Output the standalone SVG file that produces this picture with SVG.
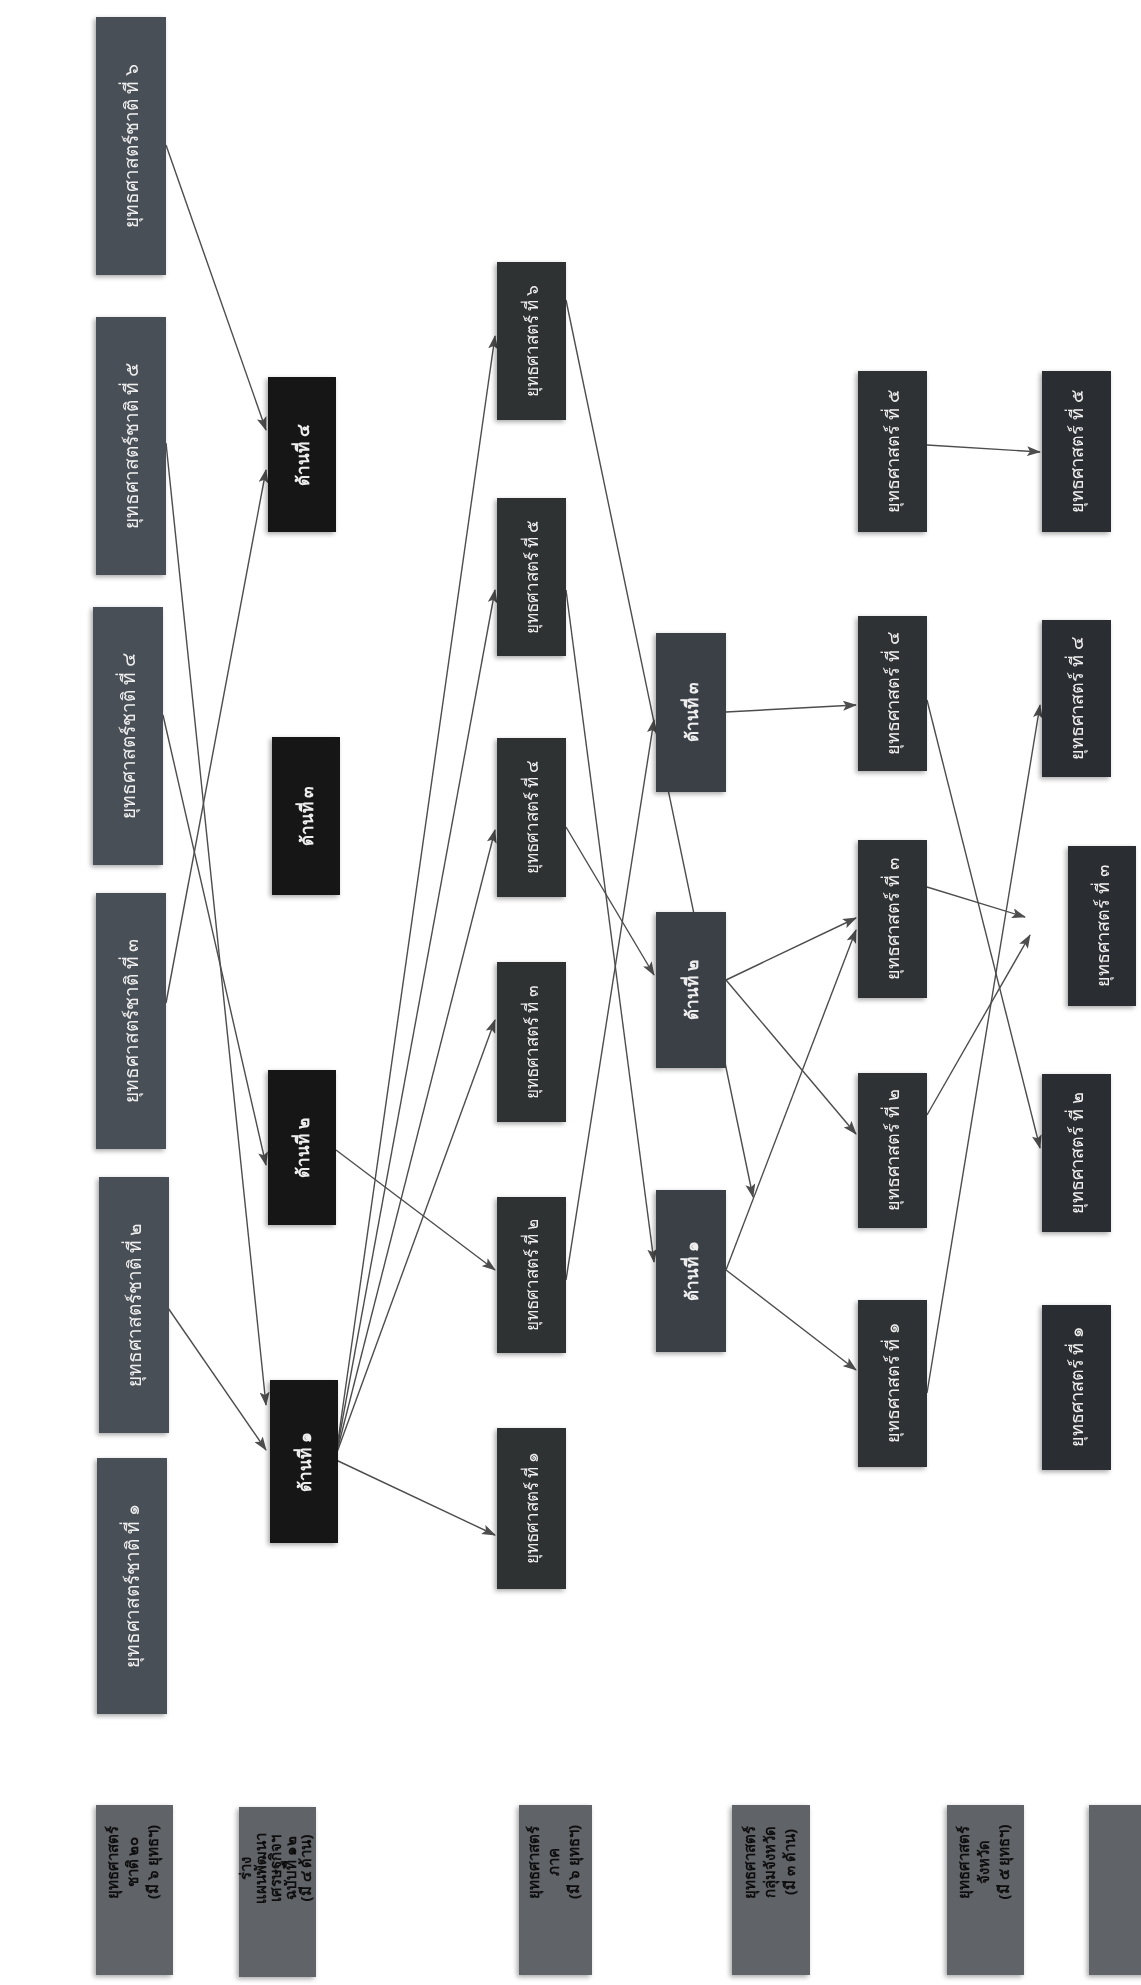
<svg xmlns="http://www.w3.org/2000/svg" width="1141" height="1985" viewBox="0 0 1141 1985">
<style>
  .n1{fill:#4a4f56}
  .n2{fill:#151515}
  .n3{fill:#2e3033}
  .n4{fill:#3b3f46}
  .n5{fill:#2f3134}
  .n6{fill:#2c2e31}
  .lg{fill:#606367}
  .t{font-family:"Noto Sans","DejaVu Sans","Liberation Sans",sans-serif;fill:#eeeeee;text-anchor:middle;dominant-baseline:central}
  .b{font-weight:bold}
  .lt{font-family:"Noto Sans","DejaVu Sans","Liberation Sans",sans-serif;fill:#111;text-anchor:middle;font-size:15px;font-weight:bold}
  .c{stroke:#4d4d4d;stroke-width:1.4;fill:none;marker-end:url(#ah)}
</style>
<defs>
  <marker id="ah" markerWidth="14" markerHeight="10" refX="13" refY="5" orient="auto" markerUnits="userSpaceOnUse">
    <path d="M0,0 L14,5 L0,10 L3,5 Z" fill="#4d4d4d"/>
  </marker>
  <filter id="sh" x="-20%" y="-20%" width="140%" height="140%">
    <feGaussianBlur in="SourceAlpha" stdDeviation="2.5"/>
    <feOffset dx="-2" dy="2"/>
    <feComponentTransfer><feFuncA type="linear" slope="0.35"/></feComponentTransfer>
    <feMerge><feMergeNode/><feMergeNode in="SourceGraphic"/></feMerge>
  </filter>
</defs>
<rect width="1141" height="1985" fill="#ffffff"/>

<g id="connectors">
  <line class="c" x1="166" y1="1305" x2="266" y2="1450"/>
  <line class="c" x1="166" y1="1003" x2="266" y2="470"/>
  <line class="c" x1="163" y1="715" x2="266" y2="1165"/>
  <line class="c" x1="166" y1="443" x2="266" y2="1405"/>
  <line class="c" x1="166" y1="145" x2="266" y2="430"/>
  <line class="c" x1="336" y1="1455" x2="495" y2="336"/>
  <line class="c" x1="336" y1="1455" x2="495" y2="590"/>
  <line class="c" x1="336" y1="1455" x2="495" y2="830"/>
  <line class="c" x1="336" y1="1455" x2="495" y2="1020"/>
  <line class="c" x1="336" y1="1460" x2="495" y2="1535"/>
  <line class="c" x1="336" y1="1150" x2="495" y2="1270"/>
  <line class="c" x1="566" y1="1280" x2="654" y2="720"/>
  <line class="c" x1="566" y1="827" x2="654" y2="975"/>
  <line class="c" x1="566" y1="590" x2="654" y2="1262"/>
  <line class="c" x1="566" y1="300" x2="753" y2="1197"/>
  <line class="c" x1="726" y1="1270" x2="856" y2="1370"/>
  <line class="c" x1="726" y1="1270" x2="856" y2="930"/>
  <line class="c" x1="726" y1="980" x2="856" y2="918"/>
  <line class="c" x1="726" y1="980" x2="856" y2="1134"/>
  <line class="c" x1="726" y1="712" x2="856" y2="705"/>
  <line class="c" x1="927" y1="445" x2="1040" y2="452"/>
  <line class="c" x1="927" y1="700" x2="1040" y2="1148"/>
  <line class="c" x1="927" y1="887" x2="1025" y2="917"/>
  <line class="c" x1="927" y1="1115" x2="1030" y2="935"/>
  <line class="c" x1="927" y1="1393" x2="1040" y2="705"/>
</g>

<!-- Column 1: ยุทธศาสตร์ชาติ -->
<g id="chat6" filter="url(#sh)"><rect class="n1" x="96" y="17" width="70" height="258"/><text class="t" font-size="19" transform="translate(131,146) rotate(-90)">ยุทธศาสตร์ชาติ ที่ ๖</text></g>
<g id="chat5" filter="url(#sh)"><rect class="n1" x="96" y="317" width="70" height="258"/><text class="t" font-size="19" transform="translate(131,446) rotate(-90)">ยุทธศาสตร์ชาติ ที่ ๕</text></g>
<g id="chat4" filter="url(#sh)"><rect class="n1" x="93" y="607" width="70" height="258"/><text class="t" font-size="19" transform="translate(128,736) rotate(-90)">ยุทธศาสตร์ชาติ ที่ ๔</text></g>
<g id="chat3" filter="url(#sh)"><rect class="n1" x="96" y="893" width="70" height="256"/><text class="t" font-size="19" transform="translate(131,1021) rotate(-90)">ยุทธศาสตร์ชาติ ที่ ๓</text></g>
<g id="chat2" filter="url(#sh)"><rect class="n1" x="99" y="1177" width="70" height="256"/><text class="t" font-size="19" transform="translate(134,1305) rotate(-90)">ยุทธศาสตร์ชาติ ที่ ๒</text></g>
<g id="chat1" filter="url(#sh)"><rect class="n1" x="97" y="1458" width="70" height="256"/><text class="t" font-size="19" transform="translate(132,1586) rotate(-90)">ยุทธศาสตร์ชาติ ที่ ๑</text></g>

<!-- Column 2: แผนฯ ด้าน -->
<g id="plan4" filter="url(#sh)"><rect class="n2" x="268" y="377" width="68" height="155"/><text class="t b" font-size="17" transform="translate(302,455) rotate(-90)">ด้านที่ ๔</text></g>
<g id="plan3" filter="url(#sh)"><rect class="n2" x="272" y="737" width="68" height="158"/><text class="t b" font-size="17" transform="translate(306,816) rotate(-90)">ด้านที่ ๓</text></g>
<g id="plan2" filter="url(#sh)"><rect class="n2" x="268" y="1070" width="68" height="155"/><text class="t b" font-size="17" transform="translate(302,1148) rotate(-90)">ด้านที่ ๒</text></g>
<g id="plan1" filter="url(#sh)"><rect class="n2" x="270" y="1380" width="68" height="163"/><text class="t b" font-size="17" transform="translate(304,1462) rotate(-90)">ด้านที่ ๑</text></g>

<!-- Column 3: ยุทธศาสตร์ภาค -->
<g id="pak6" filter="url(#sh)"><rect class="n3" x="497" y="262" width="69" height="158"/><text class="t" font-size="17" transform="translate(531,341) rotate(-90)">ยุทธศาสตร์ ที่ ๖</text></g>
<g id="pak5" filter="url(#sh)"><rect class="n3" x="497" y="498" width="69" height="158"/><text class="t" font-size="17" transform="translate(531,577) rotate(-90)">ยุทธศาสตร์ ที่ ๕</text></g>
<g id="pak4" filter="url(#sh)"><rect class="n3" x="497" y="738" width="69" height="159"/><text class="t" font-size="17" transform="translate(531,817) rotate(-90)">ยุทธศาสตร์ ที่ ๔</text></g>
<g id="pak3" filter="url(#sh)"><rect class="n3" x="497" y="962" width="69" height="160"/><text class="t" font-size="17" transform="translate(531,1042) rotate(-90)">ยุทธศาสตร์ ที่ ๓</text></g>
<g id="pak2" filter="url(#sh)"><rect class="n3" x="497" y="1197" width="69" height="156"/><text class="t" font-size="17" transform="translate(531,1275) rotate(-90)">ยุทธศาสตร์ ที่ ๒</text></g>
<g id="pak1" filter="url(#sh)"><rect class="n3" x="497" y="1428" width="69" height="161"/><text class="t" font-size="17" transform="translate(531,1508) rotate(-90)">ยุทธศาสตร์ ที่ ๑</text></g>

<!-- Column 4: กลุ่มจังหวัด -->
<g id="klum3" filter="url(#sh)"><rect class="n4" x="656" y="633" width="70" height="159"/><text class="t b" font-size="17" transform="translate(691,712) rotate(-90)">ด้านที่ ๓</text></g>
<g id="klum2" filter="url(#sh)"><rect class="n4" x="656" y="912" width="70" height="156"/><text class="t b" font-size="17" transform="translate(691,990) rotate(-90)">ด้านที่ ๒</text></g>
<g id="klum1" filter="url(#sh)"><rect class="n4" x="656" y="1190" width="70" height="162"/><text class="t b" font-size="17" transform="translate(691,1271) rotate(-90)">ด้านที่ ๑</text></g>

<!-- Column 5: จังหวัด -->
<g id="cw5" filter="url(#sh)"><rect class="n5" x="858" y="371" width="69" height="161"/><text class="t" font-size="18" transform="translate(892,451) rotate(-90)">ยุทธศาสตร์ ที่ ๕</text></g>
<g id="cw4" filter="url(#sh)"><rect class="n5" x="858" y="616" width="69" height="155"/><text class="t" font-size="18" transform="translate(892,693) rotate(-90)">ยุทธศาสตร์ ที่ ๔</text></g>
<g id="cw3" filter="url(#sh)"><rect class="n5" x="858" y="840" width="69" height="158"/><text class="t" font-size="18" transform="translate(892,919) rotate(-90)">ยุทธศาสตร์ ที่ ๓</text></g>
<g id="cw2" filter="url(#sh)"><rect class="n5" x="858" y="1073" width="69" height="155"/><text class="t" font-size="18" transform="translate(892,1150) rotate(-90)">ยุทธศาสตร์ ที่ ๒</text></g>
<g id="cw1" filter="url(#sh)"><rect class="n5" x="858" y="1300" width="69" height="167"/><text class="t" font-size="18" transform="translate(892,1383) rotate(-90)">ยุทธศาสตร์ ที่ ๑</text></g>

<!-- Column 6 -->
<g id="d5" filter="url(#sh)"><rect class="n6" x="1042" y="371" width="69" height="161"/><text class="t" font-size="18" transform="translate(1076,451) rotate(-90)">ยุทธศาสตร์ ที่ ๕</text></g>
<g id="d4" filter="url(#sh)"><rect class="n6" x="1042" y="620" width="69" height="157"/><text class="t" font-size="18" transform="translate(1076,698) rotate(-90)">ยุทธศาสตร์ ที่ ๔</text></g>
<g id="d3" filter="url(#sh)"><rect class="n6" x="1068" y="846" width="68" height="160"/><text class="t" font-size="18" transform="translate(1102,926) rotate(-90)">ยุทธศาสตร์ ที่ ๓</text></g>
<g id="d2" filter="url(#sh)"><rect class="n6" x="1042" y="1074" width="69" height="158"/><text class="t" font-size="18" transform="translate(1076,1153) rotate(-90)">ยุทธศาสตร์ ที่ ๒</text></g>
<g id="d1" filter="url(#sh)"><rect class="n6" x="1042" y="1305" width="69" height="165"/><text class="t" font-size="18" transform="translate(1076,1387) rotate(-90)">ยุทธศาสตร์ ที่ ๑</text></g>

<!-- Legend -->
<g id="lg1" filter="url(#sh)"><rect class="lg" x="96" y="1805" width="77" height="170"/>
  <text class="lt" transform="translate(134,1862) rotate(-90)"><tspan x="0" y="-16">ยุทธศาสตร์</tspan><tspan x="0" y="4">ชาติ ๒๐</tspan><tspan x="0" y="24">(มี ๖ ยุทธฯ)</tspan></text></g>
<g id="lg2" filter="url(#sh)"><rect class="lg" x="239" y="1807" width="77" height="170"/>
  <text class="lt" font-size="13" transform="translate(277,1868) rotate(-90)"><tspan x="0" y="-26">ร่าง</tspan><tspan x="0" y="-11">แผนพัฒนา</tspan><tspan x="0" y="4">เศรษฐกิจฯ</tspan><tspan x="0" y="19">ฉบับที่ ๑๒</tspan><tspan x="0" y="34">(มี ๔ ด้าน)</tspan></text></g>
<g id="lg3" filter="url(#sh)"><rect class="lg" x="519" y="1805" width="73" height="170"/>
  <text class="lt" transform="translate(555,1862) rotate(-90)"><tspan x="0" y="-16">ยุทธศาสตร์</tspan><tspan x="0" y="4">ภาค</tspan><tspan x="0" y="24">(มี ๖ ยุทธฯ)</tspan></text></g>
<g id="lg4" filter="url(#sh)"><rect class="lg" x="732" y="1805" width="78" height="170"/>
  <text class="lt" transform="translate(771,1862) rotate(-90)"><tspan x="0" y="-16">ยุทธศาสตร์</tspan><tspan x="0" y="4">กลุ่มจังหวัด</tspan><tspan x="0" y="24">(มี ๓ ด้าน)</tspan></text></g>
<g id="lg5" filter="url(#sh)"><rect class="lg" x="947" y="1805" width="77" height="170"/>
  <text class="lt" transform="translate(985,1862) rotate(-90)"><tspan x="0" y="-16">ยุทธศาสตร์</tspan><tspan x="0" y="4">จังหวัด</tspan><tspan x="0" y="24">(มี ๕ ยุทธฯ)</tspan></text></g>
<g id="lg6" filter="url(#sh)"><rect class="lg" x="1089" y="1805" width="70" height="170"/></g>
</svg>
